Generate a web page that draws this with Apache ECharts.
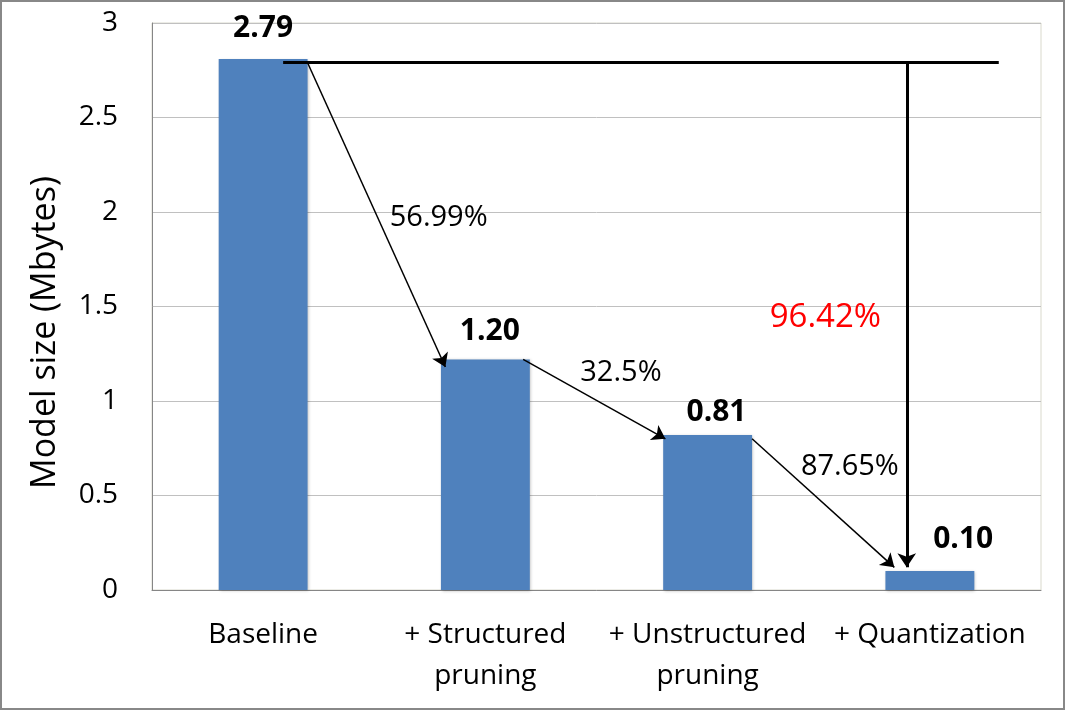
<!DOCTYPE html>
<html>
<head>
<meta charset="utf-8">
<script src="https://cdn.jsdelivr.net/npm/echarts@6/dist/echarts.min.js"></script>
<style>
  html, body { margin: 0; padding: 0; background: #fff; }
  #main { width: 1065px; height: 710px; }
</style>
</head>
<body>
<div id="main"></div>
<script>
// categories and bar heights
var categories = ['Baseline', '+ Structured\npruning', '+ Unstructured\npruning', '+ Quantization'];
var sizes = [2.81, 1.22, 0.82, 0.10];
var sizeLabels = ['2.79', '1.20', '0.81', '0.10'];
var yTicks = [0, 0.5, 1, 1.5, 2, 2.5, 3];

// reduction arrows, in [categoryIndex, Mbytes] units
var stepArrows = [
  [[0.20, 2.79], [0.82, 1.18]],
  [[1.17, 1.22], [1.81, 0.80]],
  [[2.20, 0.80], [2.84, 0.12]]
];
var totalLine = [[0.09, 2.79], [3.31, 2.79]];
var totalArrow = [[2.896, 2.79], [2.896, 0.12]];

// text annotations [x, y, text]
var pctNotes = [[0.79, 1.97, '56.99%'], [1.61, 1.15, '32.5%'], [2.64, 0.65, '87.65%']];
var totalNote = [2.53, 1.44, '96.42%'];
var valueNotes = [[0.00, 2.97], [1.02, 1.37], [2.04, 0.94], [3.15, 0.27]];

var FONT = 'Open Sans';
var chart = echarts.init(document.getElementById('main'));

function noteSeries(data, color, size, weight) {
  return {
    type: 'scatter',
    xAxisIndex: 1,
    symbol: 'circle',
    symbolSize: 1,
    silent: true,
    itemStyle: { color: 'rgba(0,0,0,0)', opacity: 1 },
    data: data,
    label: {
      show: true, position: 'inside', formatter: '{b}', opacity: 1,
      color: color, fontSize: size, fontWeight: weight, fontFamily: FONT,
      textBorderWidth: 0
    },
    z: 6
  };
}

var option = {
  animation: false,
  backgroundColor: '#fff',
  textStyle: { fontFamily: FONT },
  grid: {
    left: 152, right: 24, top: 23, bottom: 120,
    show: true, borderColor: '#d9d9cc', borderWidth: 1
  },
  xAxis: [{
    type: 'category',
    data: categories,
    axisLine: { lineStyle: { color: '#868686', width: 1 } },
    axisTick: { show: false },
    axisLabel: { interval: 0, color: '#000', fontSize: 28, fontFamily: FONT, margin: 25, lineHeight: 41 }
  }, {
    type: 'value',
    min: -0.5, max: 3.5,
    show: false
  }],
  yAxis: {
    type: 'value',
    min: yTicks[0], max: yTicks[yTicks.length - 1], interval: 0.5,
    name: 'Model size (Mbytes)',
    nameLocation: 'middle',
    nameGap: 90,
    nameTextStyle: { color: '#000', fontSize: 34, fontFamily: FONT, padding: [0, 52, 0, 0] },
    axisLine: { show: true, onZero: false, lineStyle: { color: '#868686', width: 1 } },
    axisTick: { show: false },
    axisLabel: { color: '#000', fontSize: 28, fontFamily: FONT, margin: 34 },
    splitLine: { lineStyle: { color: '#c0c0c0', width: 1 } }
  },
  series: [{
    type: 'bar',
    data: sizes,
    barWidth: '40%',
    itemStyle: {
      color: '#4f81bd',
      shadowColor: 'rgba(0,0,0,0.25)', shadowBlur: 3, shadowOffsetX: 1, shadowOffsetY: 1
    },
    z: 2
  }, {
    type: 'lines',
    coordinateSystem: 'cartesian2d',
    xAxisIndex: 1,
    symbol: ['none', 'arrow'],
    symbolSize: 13,
    lineStyle: { color: '#000', width: 1.5, opacity: 1 },
    data: stepArrows.map(function (a) { return { coords: a }; }),
    z: 5
  }, {
    type: 'lines',
    coordinateSystem: 'cartesian2d',
    xAxisIndex: 1,
    symbol: ['none', 'none'],
    lineStyle: { color: '#000', width: 3, opacity: 1 },
    data: [{ coords: totalLine }],
    z: 5
  }, {
    type: 'lines',
    coordinateSystem: 'cartesian2d',
    xAxisIndex: 1,
    symbol: ['none', 'arrow'],
    symbolSize: 14,
    lineStyle: { color: '#000', width: 3, opacity: 1 },
    data: [{ coords: totalArrow }],
    z: 5
  },
  noteSeries(pctNotes.map(function (n) { return { value: [n[0], n[1]], name: n[2] }; }), '#000', 29, 'normal'),
  noteSeries([{ value: [totalNote[0], totalNote[1]], name: totalNote[2] }], '#ff0000', 33, 'normal'),
  noteSeries(valueNotes.map(function (n, i) { return { value: n, name: sizeLabels[i] }; }), '#000', 30, 'bold')
  ],
  graphic: [{
    type: 'rect',
    shape: { x: 1, y: 1, width: 1063, height: 708 },
    style: { fill: 'none', stroke: '#888888', lineWidth: 2 },
    silent: true
  }]
};

chart.setOption(option);
</script>
</body>
</html>
